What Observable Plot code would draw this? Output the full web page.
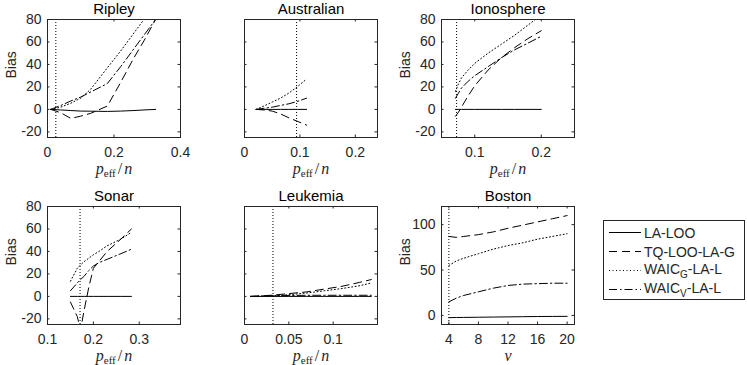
<!DOCTYPE html>
<html><head><meta charset="utf-8">
<script src="https://cdn.jsdelivr.net/npm/d3@7"></script>
<script src="https://cdn.jsdelivr.net/npm/@observablehq/plot@0.6"></script>
<style>
body{margin:0;background:#fff;}
#chart{position:relative;width:747px;height:365px;overflow:hidden;font-family:"Liberation Sans",Arial,sans-serif;color:#262626;}
.panel{position:absolute;}
#legend{position:absolute;left:603px;top:220px;width:140px;height:76px;border:1px solid #262626;background:#fff;font-size:14px;padding-top:2px;box-sizing:content-box;}
#legend .row{display:flex;align-items:center;height:19px;white-space:nowrap;}
#legend sub{font-size:10px;}
</style></head><body><div id="chart"></div><script>
// ---- data ----
const methods = ["LA-LOO", "TQ-LOO-LA-G", "WAIC_G-LA-L", "WAIC_V-LA-L"];

const ripleyX    = [0.01, 0.04, 0.07, 0.10, 0.13, 0.18, 0.22, 0.26, 0.29, 0.325];
const ripleyLOO  = [0, -0.5, -1, -1.5, -1.6, -1.8, -1.5, -1, -0.5, 0];
const ripleyTQ   = [0, -3, -8, -6, -3.5, 3, 24, 46, 61, 80];
const ripleyWG   = [0, 2, 5.5, 10, 18, 37, 52, 68, 80, 93];
const ripleyWV   = [0, 3.5, 7.5, 11, 15.5, 23, 38, 54, 66, 80];
const ripleyRef  = 0.025;

const austX      = [0.021, 0.035, 0.05, 0.065, 0.08, 0.095, 0.112];
const austLOO    = [0, 0, 0, 0, 0, 0, 0];
const austTQ     = [0, -0.5, -1.5, -4, -7.5, -10.5, -14];
const austWG     = [0, 3, 6.5, 10, 14.5, 20, 27];
const austWV     = [0, 1, 2, 3.5, 5, 7, 10];
const austRef    = 0.094;

const ionoX      = [0.071, 0.075, 0.08, 0.09, 0.1, 0.12, 0.14, 0.16, 0.18, 0.2];
const ionoLOO    = [0, 0, 0, 0, 0, 0, 0, 0, 0, 0];
const ionoTQ     = [-6, -3, 2, 12, 21, 35, 46, 55, 63, 70];
const ionoWG     = [16, 22, 28, 35, 41, 50, 58, 66, 75, 84];
const ionoWV     = [10, 14, 19, 25, 30, 38, 46, 53, 59, 65];
const ionoRef    = 0.0727;

const sonarX     = [0.15, 0.165, 0.172, 0.18, 0.19, 0.2, 0.212, 0.23, 0.26, 0.283];
const sonarLOO   = [0, 0, 0, 0, 0, 0, 0, 0, 0, 0];
const sonarTQ    = [-5, -18, -30, -12, 8, 25, 31, 40, 51, 60];
const sonarWG    = [13.5, 25, 28, 31, 34, 37, 40, 45, 51, 57];
const sonarWV    = [5, 12, 15, 18, 23, 27, 30, 33, 38, 42];
const sonarRef   = 0.171;

const leukX      = [0.007, 0.03, 0.05, 0.07, 0.09, 0.11, 0.13, 0.143];
const leukLOO    = [0, 0, 0, 0, 0, 0, 0, 0];
const leukTQ     = [0, 1, 2.5, 4, 6.5, 9, 12.5, 15];
const leukWG     = [0, 0.5, 1.5, 3, 5, 7, 9.5, 12];
const leukWV     = [0, 0.5, 0.8, 1, 1, 1, 1, 1];
const leukRef    = 0.0321;

const bostonX    = [4, 5, 6, 8, 10, 12, 14, 16, 18, 20];
const bostonLOO  = [-2.5, -2.3, -2.2, -2, -1.8, -1.6, -1.4, -1.2, -1.1, -1];
const bostonTQ   = [87, 86, 87, 89, 92, 96, 99.5, 103, 106.5, 110];
const bostonWG   = [55, 60, 63, 68, 73, 77, 80, 84, 87, 90];
const bostonWV   = [15, 19, 22, 26, 30, 33, 34.5, 35, 35.5, 35.5];
const bostonRef  = 4;

const biasTicks   = [-20, 0, 20, 40, 60, 80];
const bostonYTicks = [0, 50, 100];
const ripleyXTicks = [0, 0.2, 0.4];
const austXTicks   = [0, 0.1, 0.2];
const ionoXTicks   = [0.1, 0.2];
const sonarXTicks  = [0.1, 0.2, 0.3];
const leukXTicks   = [0, 0.05, 0.1];
const bostonXTicks = [4, 8, 12, 16, 20];

// ---- styles ----
const dashes = [null, "8,5", "1,2.5", "8,3,1.5,3"];
const peffLabel = [{t: "p", i: true}, {t: "eff", sub: true}, {t: "/"}, {t: "n", i: true}];
const nuLabel = [{t: "ν", i: true}];

const panels = [
  {title: "Ripley", x: ripleyX, series: [ripleyLOO, ripleyTQ, ripleyWG, ripleyWV], ref: ripleyRef,
   xDomain: [0, 0.4], yDomain: [-25, 80], xTicks: ripleyXTicks, yTicks: biasTicks, showY: true, label: peffLabel, left: 0.3, top: 0},
  {title: "Australian", x: austX, series: [austLOO, austTQ, austWG, austWV], ref: austRef,
   xDomain: [0, 0.24], yDomain: [-25, 80], xTicks: austXTicks, yTicks: biasTicks, showY: false, label: peffLabel, left: 196.5, top: 0},
  {title: "Ionosphere", x: ionoX, series: [ionoLOO, ionoTQ, ionoWG, ionoWV], ref: ionoRef,
   xDomain: [0.05, 0.25], yDomain: [-25, 80], xTicks: ionoXTicks, yTicks: biasTicks, showY: true, label: peffLabel, left: 394.3, top: 0},
  {title: "Sonar", x: sonarX, series: [sonarLOO, sonarTQ, sonarWG, sonarWV], ref: sonarRef,
   xDomain: [0.1, 0.39], yDomain: [-25, 80], xTicks: sonarXTicks, yTicks: biasTicks, showY: true, label: peffLabel, left: 0.3, top: 187},
  {title: "Leukemia", x: leukX, series: [leukLOO, leukTQ, leukWG, leukWV], ref: leukRef,
   xDomain: [0, 0.15], yDomain: [-25, 80], xTicks: leukXTicks, yTicks: biasTicks, showY: false, label: peffLabel, left: 196.5, top: 187},
  {title: "Boston", x: bostonX, series: [bostonLOO, bostonTQ, bostonWG, bostonWV], ref: bostonRef,
   xDomain: [3, 21], yDomain: [-10, 120], xTicks: bostonXTicks, yTicks: bostonYTicks, showY: true, label: nuLabel, left: 394.3, top: 187}
];

const chart = document.getElementById("chart");
const W = 133, H = 118, ML = 47, MT = 19, MR = 12, MB = 40, TK = 2.5;
const ink = "#262626";

for (const cfg of panels) {
  const rows = [];
  cfg.series.forEach((vals, k) => vals.forEach((v, i) => rows.push({x: cfg.x[i], y: v, k})));
  const labelText = cfg.label.map(p => p.t).join("");
  const marks = [
    Plot.ruleX([cfg.ref], {x: d => d, stroke: "#000", strokeDasharray: "1,2", strokeWidth: 1}),
    ...dashes.map((da, k) => Plot.line(rows.filter(r => r.k === k), {
      x: "x", y: "y", stroke: "#000", strokeWidth: 1, strokeDasharray: da, clip: true
    })),
    Plot.frame({stroke: ink}),
    Plot.tickY(cfg.yTicks, {y: d => d, insetRight: W - TK, stroke: ink}),
    Plot.tickY(cfg.yTicks, {y: d => d, insetLeft: W - TK, stroke: ink}),
    Plot.tickX(cfg.xTicks, {x: d => d, insetTop: H - TK, stroke: ink}),
    Plot.tickX(cfg.xTicks, {x: d => d, insetBottom: H - TK, stroke: ink}),
    Plot.axisX(cfg.xTicks, {tickSize: 0, tickPadding: 10, tickFormat: d => String(d), label: null, fontSize: 14, fill: ink}),
    Plot.text([cfg.title], {text: d => d, frameAnchor: "top", lineAnchor: "middle", dy: -10, fontSize: 15, fill: "#000"}),
    Plot.text([labelText], {text: d => d, frameAnchor: "bottom", lineAnchor: "middle", dy: 31,
      fontFamily: "Liberation Serif, serif", fontSize: 16, fill: ink})
  ];
  if (cfg.showY) {
    marks.push(
      Plot.axisY(cfg.yTicks, {tickSize: 0, tickPadding: 6, tickFormat: d => String(d), label: null, fontSize: 14, fill: ink}),
      Plot.text(["Bias"], {text: d => d, frameAnchor: "left", lineAnchor: "middle", rotate: -90, dx: -36, fontSize: 14, fill: ink})
    );
  }
  const svg = Plot.plot({
    width: ML + W + MR, height: MT + H + MB,
    marginLeft: ML, marginTop: MT, marginRight: MR, marginBottom: MB,
    x: {domain: cfg.xDomain, axis: null},
    y: {domain: cfg.yDomain, axis: null},
    style: {fontFamily: "'Liberation Sans', Arial, sans-serif", fontSize: "14px", background: "transparent", color: ink, overflow: "visible"},
    marks
  });
  d3.select(svg).selectAll("text").filter(function () { return this.textContent === labelText; }).each(function () {
    const t = d3.select(this);
    t.text(null);
    for (const p of cfg.label) {
      const s = t.append("tspan").text(p.t);
      if (p.i) s.attr("font-style", "italic");
      if (p.sub) s.attr("font-size", 11).attr("dy", 3);
      if (p.t === "/") s.attr("dy", -3).attr("dx", 2);
      if (p.t === "n") s.attr("dx", 2);
    }
  });
  svg.classList.add("panel");
  svg.style.left = cfg.left + "px";
  svg.style.top = cfg.top + "px";
  chart.appendChild(svg);
}

// legend
const legend = d3.select(chart).append("div").attr("id", "legend");
methods.forEach((m, k) => {
  const row = legend.append("div").attr("class", "row");
  const sw = row.append("svg").attr("width", 40).attr("height", 19);
  sw.append("line").attr("x1", 5).attr("x2", 37).attr("y1", 9.5).attr("y2", 9.5)
    .attr("stroke", "#000").attr("stroke-width", 1).attr("stroke-dasharray", dashes[k]);
  const label = row.append("span");
  const [base, rest] = m.split("_");
  if (rest === undefined) label.text(m);
  else {
    label.append("span").text(base);
    const idx = rest.indexOf("-");
    label.append("sub").text(rest.slice(0, idx));
    label.append("span").text(rest.slice(idx));
  }
});
</script></body></html>
